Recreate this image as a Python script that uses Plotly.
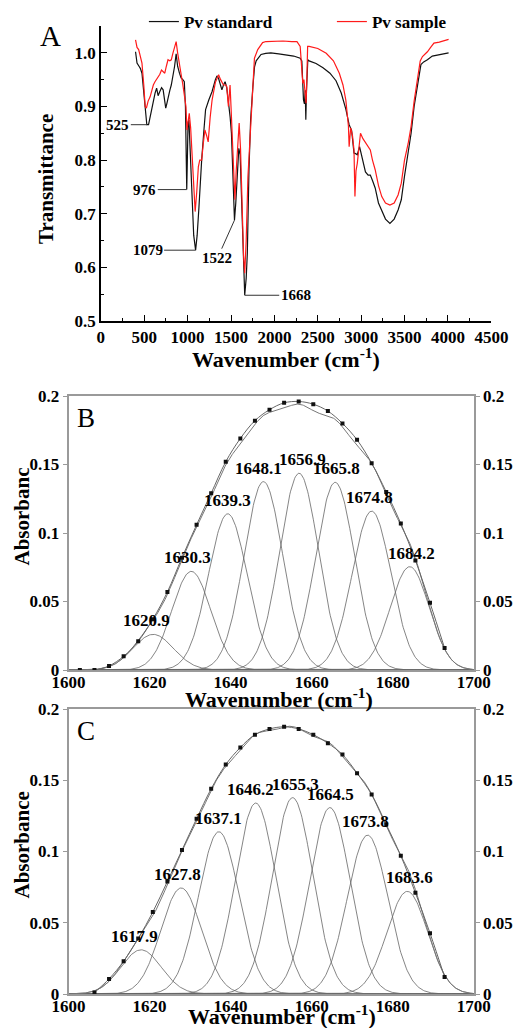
import numpy as np
import plotly.graph_objects as go

W, H = 520, 1028
SERIF = "Liberation Serif"

# ---------------- Panel A data (FTIR transmittance) ----------------
wn_std = [400, 417, 440, 455, 474, 495, 511, 530, 550, 568, 590, 605, 625, 643, 660, 680, 700, 718, 735,
          748, 760, 774, 795, 812, 830, 849, 868, 885, 906, 925, 945, 962, 975, 985, 990, 997, 1005, 1015,
          1030, 1050, 1070, 1092, 1110, 1131, 1150, 1162, 1188, 1207, 1244, 1282, 1320, 1338, 1357, 1376,
          1395, 1413, 1432, 1451, 1470, 1490, 1505, 1520, 1530, 1540, 1555, 1570, 1590, 1605, 1620, 1640,
          1658, 1675, 1688, 1707, 1726, 1752, 1771, 1790, 1846, 1900, 1959, 2050, 2147, 2222, 2297, 2316,
          2335, 2346, 2355, 2362, 2370, 2385, 2400, 2480, 2560, 2640, 2710, 2770, 2823, 2861, 2890, 2917,
          2936, 2955, 2981, 3000, 3030, 3049, 3080, 3105, 3130, 3161, 3199, 3237, 3280, 3331, 3380, 3425,
          3462, 3499, 3540, 3575, 3610, 3650, 3688, 3720, 3763, 3819, 3900, 4007]
t_std = [1.002, 0.981, 0.975, 0.971, 0.962, 0.925, 0.890, 0.866, 0.866, 0.881, 0.900, 0.909, 0.925, 0.934,
         0.920, 0.928, 0.935, 0.931, 0.915, 0.897, 0.905, 0.918, 0.930, 0.940, 0.955, 0.974, 0.998, 0.975,
         0.962, 0.953, 0.950, 0.946, 0.900, 0.800, 0.745, 0.800, 0.870, 0.875, 0.820, 0.730, 0.660, 0.632,
         0.660, 0.713, 0.770, 0.800, 0.856, 0.894, 0.912, 0.928, 0.950, 0.957, 0.952, 0.943, 0.931, 0.940,
         0.946, 0.935, 0.912, 0.880, 0.850, 0.760, 0.700, 0.688, 0.720, 0.770, 0.822, 0.810, 0.740, 0.626,
         0.548, 0.580, 0.626, 0.782, 0.875, 0.937, 0.974, 0.985, 0.997, 0.999, 1.000, 0.998, 0.996, 0.994,
         0.990, 0.985, 0.912, 0.905, 0.930, 0.875, 0.930, 0.987, 0.985, 0.980, 0.972, 0.962, 0.948, 0.925,
         0.895, 0.866, 0.855, 0.813, 0.812, 0.810, 0.825, 0.812, 0.790, 0.778, 0.772, 0.772, 0.762, 0.748,
         0.720, 0.707, 0.690, 0.682, 0.690, 0.707, 0.726, 0.770, 0.810, 0.850, 0.900, 0.943, 0.978, 0.983,
         0.987, 0.994, 0.997, 1.000]

wn_smp = [400, 417, 436, 455, 474, 495, 511, 525, 545, 568, 590, 605, 624, 640, 662, 680, 699, 718, 737,
          755, 774, 795, 812, 830, 850, 868, 885, 906, 925, 943, 962, 981, 992, 1005, 1019, 1035, 1056, 1070,
          1087, 1105, 1124, 1140, 1162, 1180, 1199, 1220, 1237, 1260, 1282, 1320, 1357, 1380, 1413, 1440,
          1451, 1470, 1489, 1500, 1515, 1530, 1545, 1560, 1580, 1594, 1610, 1630, 1645, 1658, 1675, 1695,
          1715, 1733, 1752, 1770, 1808, 1864, 1902, 2000, 2100, 2200, 2260, 2297, 2320, 2327, 2340, 2346,
          2365, 2375, 2383, 2400, 2500, 2597, 2680, 2748, 2790, 2823, 2845, 2853, 2861, 2870, 2879, 2900,
          2917, 2928, 2940, 2955, 2970, 2992, 3020, 3049, 3080, 3105, 3130, 3161, 3200, 3237, 3280, 3331,
          3380, 3425, 3462, 3499, 3540, 3575, 3610, 3650, 3680, 3706, 3763, 3800, 3838, 3900, 4007]
t_smp = [1.024, 1.010, 1.006, 0.990, 0.981, 0.940, 0.900, 0.897, 0.910, 0.918, 0.935, 0.940, 0.946, 0.950,
         0.953, 0.960, 0.968, 0.965, 0.962, 0.975, 0.987, 0.985, 0.987, 0.999, 1.010, 1.021, 1.000, 0.974,
         0.960, 0.943, 0.925, 0.900, 0.856, 0.870, 0.887, 0.860, 0.800, 0.750, 0.704, 0.740, 0.788, 0.800,
         0.800, 0.830, 0.856, 0.845, 0.834, 0.880, 0.912, 0.945, 0.959, 0.950, 0.940, 0.940, 0.937, 0.900,
         0.940, 0.900, 0.844, 0.760, 0.726, 0.780, 0.850, 0.869, 0.820, 0.700, 0.620, 0.589, 0.650, 0.769,
         0.830, 0.869, 0.950, 0.990, 1.006, 1.019, 1.021, 1.022, 1.022, 1.021, 1.021, 1.012, 0.960, 0.943,
         0.950, 0.934, 0.906, 0.960, 1.012, 1.012, 1.008, 0.999, 0.985, 0.962, 0.940, 0.912, 0.880, 0.863,
         0.825, 0.850, 0.860, 0.845, 0.819, 0.732, 0.780, 0.794, 0.820, 0.850, 0.840, 0.832, 0.825, 0.819,
         0.800, 0.782, 0.752, 0.732, 0.720, 0.716, 0.720, 0.735, 0.757, 0.800, 0.830, 0.863, 0.910, 0.956,
         0.985, 0.993, 1.002, 1.010, 1.018, 1.020, 1.025]

a_peak_labels = ["525", "976", "1079", "1522", "1668"]
a_peak_pos = [530, 990, 1092, 1540, 1658]   # where the leader lines touch the standard curve

# ---------------- Panel B data (amide I band fit) ----------------
b_centers = [1620.9, 1630.3, 1639.3, 1648.1, 1656.9, 1665.8, 1674.8, 1684.2]
b_heights = [0.026, 0.072, 0.114, 0.1375, 0.1436, 0.137, 0.116, 0.0754]
b_sigma = [5.0, 4.8, 4.8, 4.8, 4.8, 4.8, 4.8, 4.8]
b_wn = [1602.8, 1606.4, 1610.0, 1613.6, 1617.2, 1620.8, 1624.4, 1628.0, 1631.6, 1635.2, 1638.8, 1642.4,
        1646.0, 1649.6, 1653.2, 1656.8, 1660.4, 1664.0, 1667.6, 1671.2, 1674.8, 1678.4, 1682.0, 1685.6,
        1689.2, 1692.8]
b_abs = [0.0, 0.0, 0.003, 0.010, 0.021, 0.037, 0.057, 0.082, 0.106, 0.129, 0.152, 0.169, 0.182, 0.190,
         0.195, 0.196, 0.194, 0.189, 0.180, 0.168, 0.151, 0.130, 0.107, 0.080, 0.049, 0.016]

# ---------------- Panel C data ----------------
c_centers = [1617.9, 1627.8, 1637.1, 1646.2, 1655.3, 1664.5, 1673.8, 1683.6]
c_heights = [0.031, 0.0744, 0.1139, 0.134, 0.1378, 0.1308, 0.1115, 0.072]
c_sigma = [5.0, 5.0, 5.0, 5.0, 5.0, 5.0, 5.0, 5.0]
c_wn = [1606.4, 1610.0, 1613.6, 1617.2, 1620.8, 1624.4, 1628.0, 1631.6, 1635.2, 1638.8, 1642.4, 1646.0,
        1649.6, 1653.2, 1656.8, 1660.4, 1664.0, 1667.6, 1671.2, 1674.8, 1678.4, 1682.0, 1685.6, 1689.2,
        1692.8]
c_abs = [0.001, 0.0106, 0.023, 0.039, 0.0575, 0.079, 0.101, 0.123, 0.144, 0.161, 0.173, 0.182, 0.186,
         0.1875, 0.186, 0.182, 0.176, 0.168, 0.155, 0.140, 0.119, 0.097, 0.071, 0.0427, 0.012]

label_xshift = [-7, -4, 0, -5, 3, 1, -2, 2]


def px(x):
    return x / W


def py(y):
    return 1 - y / H


fig = go.Figure()

# ---- Panel A traces ----
fig.add_trace(go.Scatter(x=wn_std, y=t_std, mode="lines", name="Pv standard",
                         line=dict(color="#111111", width=1.2), xaxis="x", yaxis="y"))
fig.add_trace(go.Scatter(x=wn_smp, y=t_smp, mode="lines", name="Pv sample",
                         line=dict(color="#ff1a1a", width=1.2), xaxis="x", yaxis="y"))

annotations = []
offsets_A = [(-29, 0), (-42, 0), (-48, 0), (-17, 38), (51, 0)]
for lab, pos, (ax, ay) in zip(a_peak_labels, a_peak_pos, offsets_A):
    yv = float(np.interp(pos, wn_std, t_std))
    annotations.append(dict(x=pos, y=yv, xref="x", yref="y", text=f"<b>{lab}</b>", showarrow=True,
                            arrowhead=0, arrowwidth=1, arrowcolor="#333", ax=ax, ay=ay,
                            font=dict(family=SERIF, size=15, color="black")))

# ---- Panels B & C ----
grid = np.linspace(1600, 1700, 501)


def add_fit(centers, heights, sigmas, wn, ab, xa, ya, yr):
    total = np.zeros_like(grid)
    for c, h, s in zip(centers, heights, sigmas):
        comp = h * np.exp(-(grid - c) ** 2 / (2 * s ** 2))
        total += comp
        fig.add_trace(go.Scatter(x=grid, y=comp, mode="lines", showlegend=False, hoverinfo="skip",
                                 line=dict(color="#666666", width=0.8), xaxis=xa, yaxis=ya))
    fig.add_trace(go.Scatter(x=grid, y=total, mode="lines", showlegend=False,
                             line=dict(color="#777777", width=1), xaxis=xa, yaxis=ya))
    fig.add_trace(go.Scatter(x=wn, y=ab, mode="lines+markers", showlegend=False,
                             line=dict(color="#666666", width=1, shape="spline"),
                             marker=dict(symbol="square", size=4, color="#111111"),
                             xaxis=xa, yaxis=yr))
    for i, (c, h) in enumerate(zip(centers, heights)):
        annotations.append(dict(x=c, y=h, xref=xa, yref=ya, text=f"<b>{c:.1f}</b>", showarrow=False,
                                yanchor="bottom", yshift=2, xshift=label_xshift[i],
                                font=dict(family=SERIF, size=17, color="black")))


add_fit(b_centers, b_heights, b_sigma, b_wn, b_abs, "x2", "y2", "y3")
add_fit(c_centers, c_heights, c_sigma, c_wn, c_abs, "x3", "y4", "y5")


# ---- text annotations (panel letters, titles) ----
def txt(text, x, y, size, bold=True, angle=0):
    annotations.append(dict(text=f"<b>{text}</b>" if bold else text, x=px(x), y=py(y), xref="paper",
                            yref="paper", showarrow=False, xanchor="center", yanchor="middle",
                            textangle=angle, font=dict(family=SERIF, size=size, color="black")))


txt("A", 52, 36, 29, bold=False)
txt("B", 88, 418, 27, bold=False)
txt("C", 88, 731, 27, bold=False)
txt("Transmittance", 47, 179, 21, angle=-90)
txt("Absorbanc", 22, 517, 21, angle=-90)
txt("Absorbance", 22, 845, 21, angle=-90)
txt("Wavenumber (cm<sup>-1</sup>)", 292, 358, 22)
txt("Wavenumber (cm<sup>-1</sup>)", 285, 698, 22)
txt("Wavenumber (cm<sup>-1</sup>)", 288, 1015, 22)

tickfontA = dict(family=SERIF, size=17, color="black", weight="bold")
tickfontB = dict(family=SERIF, size=17, color="black", weight="bold")

xdomA = [px(103), px(502)]
ydomA = [py(321), py(26)]
xdomB = [px(70), px(484)]
ydomB = [py(670), py(396)]
ydomC = [py(994), py(709)]

frame = "#9a9a9a"
yticks = [0, 0.05, 0.1, 0.15, 0.2]

common = dict(showgrid=False, zeroline=False, automargin=False)

fig.update_layout(
    template="none",
    width=W, height=H, margin=dict(l=0, r=0, t=0, b=0, pad=0),
    paper_bgcolor="white", plot_bgcolor="white",
    showlegend=True,
    legend=dict(orientation="h", x=px(147), y=py(22), xanchor="left", yanchor="middle",
                entrywidth=143, entrywidthmode="pixels", bgcolor="rgba(0,0,0,0)",
                font=dict(family=SERIF, size=17, color="black", weight="bold"), itemwidth=30),
    annotations=annotations,
    xaxis=dict(domain=xdomA, anchor="y", range=[0, 4500], tickvals=list(range(0, 4501, 500)),
               ticks="inside", ticklen=6, tickwidth=1.2, tickcolor="black",
               minor=dict(dtick=250, ticks="inside", ticklen=3, tickcolor="black", tickwidth=1),
               showline=True, linecolor="black", linewidth=1.5,
               tickfont=tickfontA, ticklabelstandoff=0, **common),
    yaxis=dict(domain=ydomA, anchor="x", range=[0.5, 1.05], tickvals=[0.5, 0.6, 0.7, 0.8, 0.9, 1.0],
               tickformat=".1f", ticks="inside", ticklen=6, tickwidth=1.2, tickcolor="black",
               minor=dict(dtick=0.05, tick0=0.5, ticks="inside", ticklen=3, tickcolor="black", tickwidth=1),
               showline=True, linecolor="black", linewidth=1.5,
               tickfont=tickfontA, **common),
    xaxis2=dict(domain=xdomB, anchor="y2", range=[1600, 1700], tickvals=list(range(1600, 1701, 20)),
                ticks="", showline=True, mirror=True, linecolor=frame, linewidth=1.5,
                tickfont=tickfontB, ticklabelstandoff=-4, **common),
    yaxis2=dict(domain=ydomB, anchor="x2", range=[0, 0.2], tickvals=yticks, ticks="outside", ticklen=4,
                tickcolor=frame, showline=True, linecolor=frame, linewidth=1.5,
                tickfont=tickfontB, ticklabelstandoff=0, **common),
    yaxis3=dict(overlaying="y2", anchor="x2", side="right", range=[0, 0.2], tickvals=yticks,
                ticks="outside", ticklen=4, tickcolor=frame, showline=True, linecolor=frame, linewidth=1.5,
                tickfont=tickfontB, ticklabelstandoff=0, **common),
    xaxis3=dict(domain=xdomB, anchor="y4", range=[1600, 1700], tickvals=list(range(1600, 1701, 20)),
                ticks="", showline=True, mirror=True, linecolor=frame, linewidth=1.5,
                tickfont=tickfontB, ticklabelstandoff=-4, **common),
    yaxis4=dict(domain=ydomC, anchor="x3", range=[0, 0.2], tickvals=yticks, ticks="outside", ticklen=4,
                tickcolor=frame, showline=True, linecolor=frame, linewidth=1.5,
                tickfont=tickfontB, ticklabelstandoff=0, **common),
    yaxis5=dict(overlaying="y4", anchor="x3", side="right", range=[0, 0.2], tickvals=yticks,
                ticks="outside", ticklen=4, tickcolor=frame, showline=True, linecolor=frame, linewidth=1.5,
                tickfont=tickfontB, ticklabelstandoff=0, **common),
)

fig.write_html("out.html", config={"displayModeBar": False},
               post_script="document.body.style.margin='0px';")
